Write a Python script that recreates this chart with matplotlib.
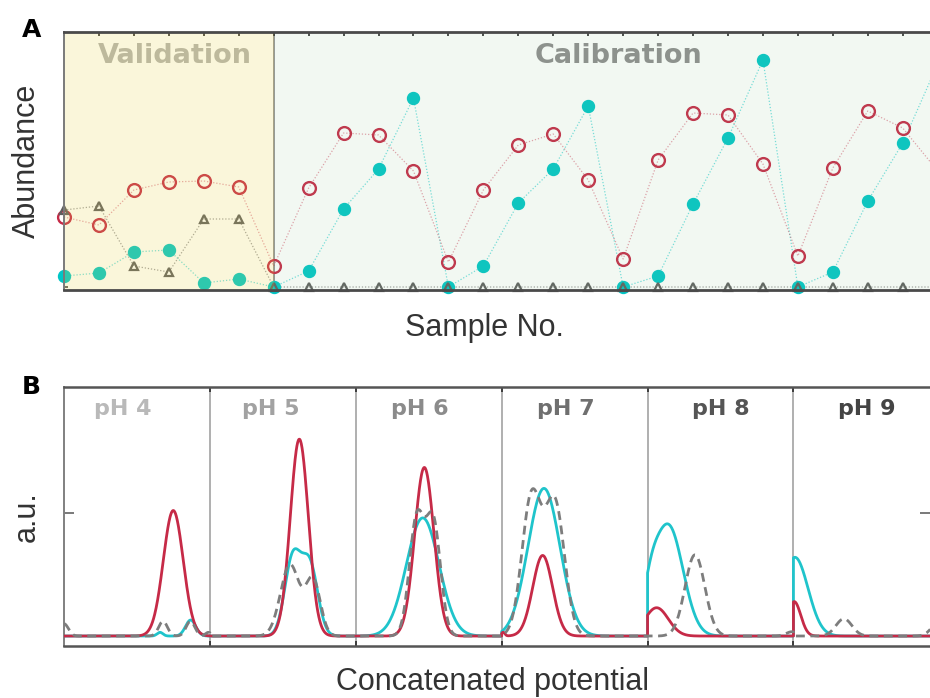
import numpy as np
import matplotlib
matplotlib.use('Agg')
import matplotlib.pyplot as plt

plt.rcParams['font.family'] = ['Liberation Sans', 'DejaVu Sans']

# ---------------- panel A: abundance per sample ----------------
sample_no = np.arange(26)
red_abund = [0.70, 0.62, 0.97, 1.05, 1.06, 1.00, 0.21, 0.99, 1.54, 1.52, 1.16, 0.25, 0.97,
             1.42, 1.53, 1.07, 0.28, 1.27, 1.74, 1.72, 1.23, 0.31, 1.19, 1.76, 1.59, 1.16]
teal_abund = [0.11, 0.14, 0.35, 0.37, 0.04, 0.08, 0.00, 0.16, 0.78, 1.18, 1.89, 0.00, 0.21,
              0.84, 1.18, 1.81, 0.00, 0.11, 0.83, 1.49, 2.27, 0.00, 0.15, 0.86, 1.44, 2.23]
grey_abund = [0.77, 0.81, 0.21, 0.15, 0.68, 0.68, 0.00, 0.00, 0.00, 0.00, 0.00, 0.00, 0.00,
              0.00, 0.00, 0.00, 0.00, 0.00, 0.00, 0.00, 0.00, 0.00, 0.00, 0.00, 0.00, 0.00]
n_validation = 6

# ---------------- panel B: peaks per pH segment ----------------
ph_labels = ['pH 4', 'pH 5', 'pH 6', 'pH 7', 'pH 8', 'pH 9']

red_seg = [0, 1, 2, 3, 3, 4, 5]
red_pos = [0.749, 1.613, 2.470, 3.010, 3.281, 4.062, 5.005]
red_amp = [1.02, 1.60, 1.37, 0.03, 0.655, 0.23, 0.28]
red_wid = [0.068, 0.062, 0.066, 0.012, 0.068, 0.080, 0.045]

cyan_seg = [0, 0, 1, 1, 2, 3, 4, 4, 5]
cyan_pos = [0.658, 0.868, 1.568, 1.685, 2.459, 3.290, 4.020, 4.142, 5.010]
cyan_amp = [0.03, 0.13, 0.63, 0.57, 0.96, 1.20, 0.20, 0.90, 0.64]
cyan_wid = [0.02, 0.035, 0.055, 0.055, 0.112, 0.11, 0.05, 0.10, 0.09]

grey_seg = [0, 0, 0, 0, 1, 1, 2, 2, 3, 3, 4, 4, 5, 5]
grey_pos = [0.0, 0.679, 0.867, 0.99, 1.549, 1.707, 2.417, 2.531, 3.205, 3.365, 4.325, 4.99, 5.346, 6.0]
grey_amp = [0.10, 0.12, 0.12, 0.03, 0.58, 0.45, 0.94, 0.92, 1.13, 1.07, 0.66, 0.035, 0.14, 0.12]
grey_wid = [0.03, 0.03, 0.03, 0.02, 0.065, 0.05, 0.05, 0.05, 0.066, 0.066, 0.068, 0.04, 0.055, 0.05]

RED = '#c62a47'
TEAL = '#00c6c6'
CYAN = '#1fc4cb'
GREY = '#7d7d7d'

W, H = 930, 698


def px_box(left, top, right, bottom):
    return [left / W, 1 - bottom / H, (right - left) / W, (bottom - top) / H]


def trace(seg, pos, amp, wid, n_seg=6, n_pts=400):
    xs, ys = [], []
    for k in range(n_seg):
        x = np.linspace(k, k + 1, n_pts)
        y = np.zeros_like(x)
        for s, c, a, w in zip(seg, pos, amp, wid):
            if s == k:
                y += a * np.exp(-0.5 * ((x - c) / w) ** 2)
        xs.append(x)
        ys.append(y)
    return np.concatenate(xs), np.concatenate(ys)


fig = plt.figure(figsize=(W / 100, H / 100), dpi=100)

# ======================= panel A =======================
axA = fig.add_axes(px_box(64, 32, 930, 290))
axA.set_xlim(0, 24.78)
axA.set_ylim(-0.03, 2.55)

axA.axvspan(0, n_validation, color='#e8d24a', alpha=0.2, lw=0, zorder=5)
axA.axvspan(n_validation, 30, color='#8fc48f', alpha=0.11, lw=0, zorder=5)
axA.axvline(n_validation, color='#8c8c8c', lw=1.3, zorder=1)

axA.plot(sample_no, grey_abund, ls=(0, (1, 1.5)), lw=0.9, color='#8a8a8a', alpha=0.8, zorder=2)
axA.plot(sample_no, teal_abund, ls=(0, (1, 1.5)), lw=0.9, color=TEAL, alpha=0.55, zorder=2)
axA.plot(sample_no, red_abund, ls=(0, (1, 1.5)), lw=0.9, color=RED, alpha=0.45, zorder=2)

axA.plot(sample_no, teal_abund, ls='none', marker='o', ms=8.6, mfc=TEAL, mec=TEAL,
         mew=1.0, zorder=3, clip_on=False)
axA.plot(sample_no, red_abund, ls='none', marker='o', ms=9.2, mfc='none', mec=RED,
         mew=1.7, zorder=4, clip_on=False)
axA.plot(sample_no, grey_abund, ls='none', marker='^', ms=5.8, mfc='none', mec='#5e5e5e',
         mew=1.6, zorder=4, clip_on=False)

tr = axA.get_xaxis_transform()
axA.text(3.18, 0.879, 'Validation', transform=tr, ha='center', va='baseline',
         fontsize=19.5, fontweight='bold', family='DejaVu Sans', color='#bdb99c', zorder=6)
axA.text(15.88, 0.879, 'Calibration', transform=tr, ha='center', va='baseline',
         fontsize=19.5, fontweight='bold', family='DejaVu Sans', color='#8d928d', zorder=6)

axA.set_xticks(range(25))
axA.tick_params(axis='x', direction='in', top=True, bottom=False, length=3, width=1.3,
                color='#333333', labelbottom=False)
axA.set_yticks([0])
axA.tick_params(axis='y', direction='in', left=True, length=3, width=1.2,
                color='#444444', labelleft=False)
axA.spines['right'].set_visible(False)
for side in ('top', 'bottom'):
    axA.spines[side].set_color('#4a4a4a')
    axA.spines[side].set_linewidth(2.0)
axA.spines['left'].set_color('#7a7a7a')
axA.spines['left'].set_linewidth(1.4)
for sp in axA.spines.values():
    sp.set_zorder(7)

# ======================= panel B =======================
axB = fig.add_axes(px_box(64, 387, 930, 646))
axB.set_xlim(0, 5.936)
axB.set_ylim(-0.081, 2.024)

for k in range(1, 6):
    axB.axvline(k, color='#9a9a9a', lw=1.1, zorder=1)

xc, yc = trace(cyan_seg, cyan_pos, cyan_amp, cyan_wid)
xr, yr = trace(red_seg, red_pos, red_amp, red_wid)
xg, yg = trace(grey_seg, grey_pos, grey_amp, grey_wid)
axB.plot(xc, yc, color=CYAN, lw=2.0, zorder=2)
axB.plot(xr, yr, color=RED, lw=2.0, zorder=3)
axB.plot(xg, yg, color=GREY, lw=2.0, ls=(0, (3.2, 2.0)), zorder=4)

label_x = [0.40, 1.42, 2.44, 3.44, 4.50, 5.50]
label_colors = ['#b9b9b9', '#a2a2a2', '#8b8b8b', '#6f6f6f', '#555555', '#444444']
trB = axB.get_xaxis_transform()
for lx, lab, col in zip(label_x, ph_labels, label_colors):
    axB.text(lx, 0.892, lab, transform=trB, ha='center', va='baseline', fontsize=16,
             fontweight='bold', family='DejaVu Sans', color=col)

axB.set_xticks(range(1, 6))
axB.tick_params(axis='x', direction='in', top=True, bottom=True, length=3.5, width=1.3,
                color='#333333', labelbottom=False)
axB.set_yticks([1])
axB.tick_params(axis='y', direction='in', left=True, right=True, length=7, width=1.1,
                color='#555555', labelleft=False)
axB.spines['right'].set_visible(False)
for side in ('top', 'bottom'):
    axB.spines[side].set_color('#555555')
    axB.spines[side].set_linewidth(1.8)
axB.spines['left'].set_color('#808080')
axB.spines['left'].set_linewidth(1.4)

# ======================= labels =======================
fig.text(35 / W, 1 - 161 / H, 'Abundance', rotation=90, rotation_mode='anchor',
         ha='center', va='baseline', fontsize=22, color='#333333')
fig.text(35 / W, 1 - 516.5 / H, 'a.u.', rotation=90, rotation_mode='anchor',
         ha='center', va='baseline', fontsize=22, color='#333333')
fig.text(484 / W, 1 - 335.7 / H, 'Sample No.', ha='center', va='baseline',
         fontsize=22, color='#333333')
fig.text(492 / W, 1 - 690 / H, 'Concatenated potential', ha='center', va='baseline',
         fontsize=22, color='#333333')

fig.text(22 / W, 1 - 37.3 / H, 'A', ha='left', va='baseline', fontsize=18,
         fontweight='bold', family='DejaVu Sans', color='black')
fig.text(22 / W, 1 - 394 / H, 'B', ha='left', va='baseline', fontsize=18,
         fontweight='bold', family='DejaVu Sans', color='black')

fig.savefig('out.png', dpi=100)
